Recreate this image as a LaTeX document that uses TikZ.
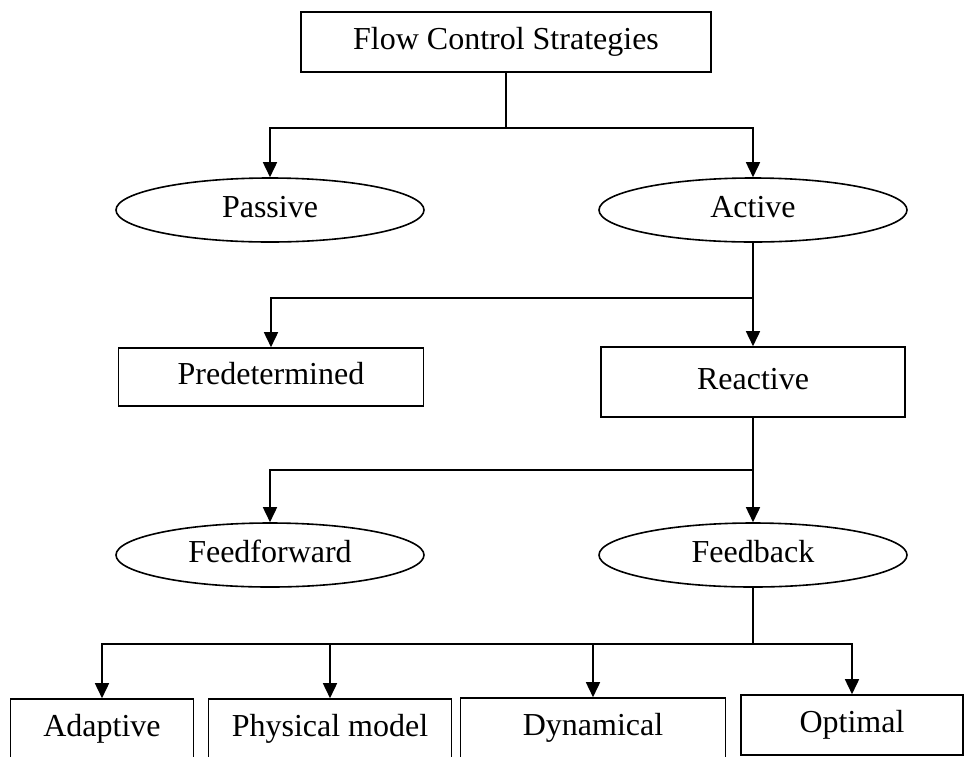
\documentclass[tikz,border=0pt]{standalone}
\usepackage{fontspec}
\setmainfont{Liberation Serif}
\usetikzlibrary{shapes.geometric,arrows.meta}
\tikzset{
  box/.style={draw,rectangle,line width=1.6pt,inner sep=0pt,text height=22pt,text depth=7pt},
  oval/.style={draw,ellipse,line width=1.6pt,inner sep=0pt,minimum width=308pt,minimum height=64pt,text height=22pt,text depth=7pt},
  link/.style={line width=1.6pt},
  arr/.style={line width=1.6pt,-{Triangle[length=15pt,width=14pt]}}
}

\begin{document}
\begin{tikzpicture}[x=1pt,y=-1pt,font=\fontsize{32}{38}\selectfont]
\useasboundingbox (0,0) rectangle (968,756);
\node[box,minimum width=410pt,minimum height=60pt] (flow) at (506,42) {Flow Control Strategies};
\node[oval] (passive) at (270,210) {Passive};
\node[oval] (active) at (753,210) {Active};
\node[box,minimum width=305pt,minimum height=58pt] (predet) at (271,377) {Predetermined};
\node[box,minimum width=304pt,minimum height=70pt] (reactive) at (753,382) {Reactive};
\node[oval] (feedfwd) at (270,555) {Feedforward};
\node[oval] (feedback) at (753,555) {Feedback};
\node[box,minimum width=183pt,minimum height=60pt] (adaptive) at (102,729) {Adaptive};
\node[box,minimum width=243pt,minimum height=60pt] (physical) at (330,729) {Physical model};
\node[box,minimum width=265pt,minimum height=60pt] (dynamical) at (593,728) {Dynamical};
\node[box,minimum width=222pt,minimum height=60pt] (optimal) at (852,725) {Optimal};
\coordinate (j1) at (506,128);
\coordinate (j2) at (753,298);
\coordinate (j3) at (753,470);
\coordinate (j4) at (753,644);
\draw[link] (flow.south) -- (j1);
\draw[arr] (j1) -| (passive.north);
\draw[arr] (j1) -| (active.north);
\draw[link] (active.south) -- (j2);
\draw[arr] (j2) -| (predet.north);
\draw[arr] (j2) -- (reactive.north);
\draw[link] (reactive.south) -- (j3);
\draw[arr] (j3) -| (feedfwd.north);
\draw[arr] (j3) -- (feedback.north);
\draw[link] (feedback.south) -- (j4);
\draw[arr] (j4) -| (adaptive.north);
\draw[arr] (j4) -| (physical.north);
\draw[arr] (j4) -| (dynamical.north);
\draw[arr] (j4) -| (optimal.north);
\end{tikzpicture}
\end{document}
